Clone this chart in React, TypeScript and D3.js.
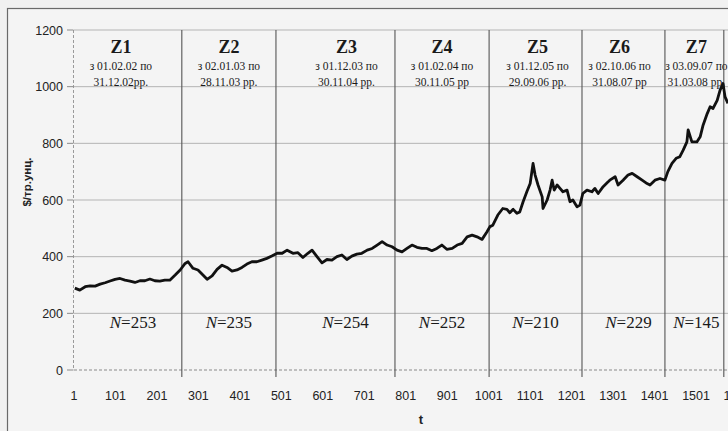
import React from 'react';
import * as d3 from 'd3';

// Day index (t) and gold price ($/troy oz)
const tIdx = [3, 15, 28, 40, 52, 64, 76, 88, 100, 112, 124, 136, 148, 160, 172, 184, 196, 208, 220, 232, 245, 257, 269, 276, 288, 300, 312, 322, 334, 346, 358, 370, 382, 394, 406, 418, 430, 442, 454, 466, 478, 491, 503, 515, 529, 541, 553, 565, 575, 587, 599, 611, 623, 635, 647, 659, 671, 683, 695, 708, 720, 732, 744, 756, 768, 780, 792, 804, 816, 828, 840, 852, 864, 876, 888, 900, 913, 925, 937, 949, 961, 973, 985, 997, 1004, 1011, 1023, 1035, 1045, 1052, 1060, 1069, 1076, 1084, 1093, 1101, 1108, 1113, 1120, 1130, 1132, 1142, 1149, 1154, 1159, 1166, 1173, 1180, 1190, 1197, 1204, 1214, 1221, 1228, 1238, 1250, 1257, 1265, 1277, 1289, 1293, 1306, 1313, 1325, 1337, 1347, 1359, 1371, 1383, 1390, 1402, 1414, 1426, 1433, 1443, 1453, 1462, 1470, 1479, 1482, 1491, 1503, 1511, 1518, 1528, 1535, 1542, 1552, 1559, 1566, 1571, 1578];
const price = [289, 282, 294, 297, 296, 303, 308, 314, 320, 323, 317, 314, 309, 315, 315, 321, 315, 314, 317, 317, 335, 353, 376, 382, 359, 353, 335, 320, 332, 355, 370, 362, 349, 353, 362, 374, 382, 382, 388, 394, 402, 412, 412, 423, 412, 414, 397, 412, 423, 400, 378, 390, 388, 400, 406, 390, 402, 409, 412, 423, 429, 441, 453, 441, 435, 423, 417, 429, 441, 433, 429, 429, 421, 429, 441, 426, 429, 441, 447, 470, 476, 470, 461, 488, 506, 511, 547, 570, 567, 555, 567, 553, 558, 594, 629, 658, 729, 688, 653, 611, 570, 600, 635, 670, 635, 653, 641, 629, 635, 594, 600, 576, 582, 623, 635, 629, 641, 623, 647, 664, 670, 682, 653, 670, 688, 694, 682, 670, 658, 653, 670, 676, 670, 700, 729, 747, 753, 776, 805, 847, 805, 805, 823, 864, 905, 929, 923, 952, 988, 1011, 964, 941];

const xTicks = [1, 101, 201, 301, 401, 501, 601, 701, 801, 901, 1001, 1101, 1201, 1301, 1401, 1501, 1601];
const yTicks = [0, 200, 400, 600, 800, 1000, 1200];

const zoneDigits = ['1', '2', '3', '4', '5', '6', '7'];
const zoneFrom = ['з 01.02.02 по', 'з 02.01.03 по', 'з 01.12.03 по', 'з 01.02.04 по', 'з 01.12.05 по', 'з 02.10.06 по', 'з 03.09.07 по'];
const zoneTo = ['31.12.02рр.', '28.11.03 рр.', '30.11.04 рр.', '30.11.05 рр', '29.09.06 рр.', '31.08.07 рр', '31.03.08 рр.'];
const zoneN = [253, 235, 254, 252, 210, 229, 145];
const zoneBounds = [1, 261, 488, 775, 1002, 1226, 1426, 1568];

const W = 728;
const H = 431;

// small label nudges (px) relative to zone midpoints
const headShift = [-7, 0, 11, 0, 2, -4, 2];
const nShift = [5, 0, 10, 0, 0, 5, 2];

export default function App() {
  const x = d3.scaleLinear().domain([1, 1601]).range([74, 737.5]);
  const y = d3.scaleLinear().domain([0, 1200]).range([370, 30]);
  const pts = tIdx.map((t, i) => [t, price[i]] as [number, number]);
  const line = d3.line<[number, number]>().x(d => x(d[0])).y(d => y(d[1])).curve(d3.curveLinear);
  const serif = '"Liberation Serif", "DejaVu Serif", serif';
  const sans = '"Liberation Sans", Arial, sans-serif';
  const mids = zoneDigits.map((_, i) => x((zoneBounds[i] + zoneBounds[i + 1]) / 2));

  return (
    <svg width={W} height={H} style={{ position: 'absolute', left: 0, top: 0 }}>
      <rect x={0} y={0} width={W} height={H} fill="#f1f1f1" />
      <rect x={7.5} y={8.5} width={760} height={460} fill="#f4f4f4" stroke="#6a6a6a" strokeWidth={1.2} />
      {/* gridlines */}
      {yTicks.map(v => (
        <line key={'g' + v} x1={74} x2={W} y1={y(v)} y2={y(v)} stroke={v === 0 ? '#8a8a8a' : '#b4b4b4'} strokeWidth={1} strokeDasharray={v === 0 ? '3,2' : undefined} />
      ))}
      {/* y axis */}
      <line x1={73.5} x2={73.5} y1={30} y2={370} stroke="#9a9a9a" strokeDasharray="3,2" />
      {yTicks.map(v => (
        <line key={'yt' + v} x1={67} x2={73.5} y1={y(v)} y2={y(v)} stroke="#8a8a8a" />
      ))}
      {yTicks.map(v => (
        <text key={'yl' + v} x={63} y={y(v) + 4.5} textAnchor="end" fontFamily={sans} fontSize={12.5} fill="#222">{v}</text>
      ))}
      {/* zone lines */}
      {zoneBounds.slice(1).map(b => (
        <line key={'z' + b} x1={x(b)} x2={x(b)} y1={30} y2={377} stroke="#555" strokeWidth={1.1} />
      ))}
      {/* x tick labels */}
      {xTicks.map(t => (
        <text key={'xl' + t} x={x(t)} y={400} textAnchor="middle" fontFamily={sans} fontSize={12.5} fill="#222">{t}</text>
      ))}
      {/* price line */}
      <path d={line(pts) || ''} fill="none" stroke="#111" strokeWidth={2.8} strokeLinejoin="round" />
      {/* zone headers */}
      {zoneDigits.map((dg, i) => (
        <g key={'zh' + i} fontFamily={serif} fill="#1a1a1a">
          <text x={mids[i] + headShift[i]} y={53} textAnchor="middle" fontSize={18} fontWeight="bold">Z{dg}</text>
          <text x={mids[i] + headShift[i]} y={70} textAnchor="middle" fontSize={11.5}>{zoneFrom[i]}</text>
          <text x={mids[i] + headShift[i]} y={86} textAnchor="middle" fontSize={11.5}>{zoneTo[i]}</text>
          <text x={mids[i] + nShift[i]} y={328} textAnchor="middle" fontSize={17}>
            <tspan fontStyle="italic">N</tspan>={zoneN[i]}
          </text>
        </g>
      ))}
      {/* axis titles */}
      <text transform="translate(31,182) rotate(-90)" textAnchor="middle" fontFamily={sans} fontSize={11.5} fontWeight="bold" fill="#222">$/тр.унц.</text>
      <text x={421} y={424} textAnchor="middle" fontFamily={sans} fontSize={13} fontWeight="bold" fill="#222">t</text>
    </svg>
  );
}
